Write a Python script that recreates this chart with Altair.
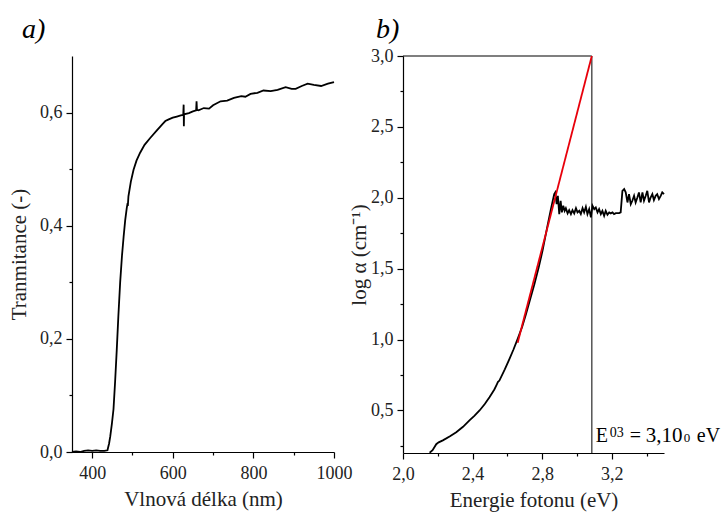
import altair as alt
import pandas as pd

# ---------- panel a) transmittance ----------
wl_nm = [350, 360, 370, 380, 390, 400, 410, 420, 430, 438, 442, 445, 449, 453, 457, 461, 465, 469.5,
         474, 478, 482, 486, 488, 488.5, 490, 496, 502.7, 510, 519, 530, 544, 560, 575, 581.6, 590,
         600, 610, 620, 626, 627, 627.5, 628, 640, 650, 658, 659, 660, 664, 677, 690, 700, 718.6, 735,
         751.8, 770, 780, 793, 810, 825, 843, 860, 880, 895, 905, 920, 934.6, 950, 968, 985, 1000]
transmittance = [0.000, 0.001, 0.000, 0.002, 0.003, 0.002, 0.003, 0.002, 0.002, 0.003, 0.015, 0.028,
                 0.050, 0.076, 0.125, 0.180, 0.240, 0.300, 0.347, 0.380, 0.410, 0.432, 0.440, 0.435,
                 0.452, 0.478, 0.499, 0.515, 0.529, 0.543, 0.555, 0.568, 0.580, 0.585, 0.588, 0.591,
                 0.593, 0.595, 0.596, 0.614, 0.576, 0.597, 0.599, 0.602, 0.604, 0.620, 0.605, 0.604,
                 0.608, 0.607, 0.613, 0.620, 0.621, 0.626, 0.629, 0.628, 0.633, 0.635, 0.639, 0.638,
                 0.640, 0.645, 0.642, 0.642, 0.647, 0.651, 0.649, 0.647, 0.651, 0.654]

# ---------- panel b) log alpha ----------
energy_eV = [2.153, 2.170, 2.191, 2.205, 2.229, 2.270, 2.306, 2.345, 2.382, 2.410, 2.440, 2.470,
             2.497, 2.525, 2.540, 2.545, 2.554, 2.585, 2.612, 2.635, 2.659, 2.685, 2.707, 2.730,
             2.755, 2.780, 2.802, 2.830, 2.850, 2.869,
             2.875, 2.883, 2.890, 2.898, 2.906, 2.913, 2.921, 2.929, 2.936, 2.946, 2.955, 2.965,
             2.974, 2.984, 2.994, 3.003, 3.013, 3.022, 3.032, 3.041, 3.051, 3.060, 3.070, 3.080,
             3.089, 3.099, 3.108, 3.118, 3.127, 3.137, 3.146, 3.156, 3.165, 3.175, 3.185, 3.194,
             3.204, 3.213, 3.223, 3.242, 3.251, 3.261, 3.271, 3.280, 3.290, 3.299, 3.309, 3.318,
             3.328, 3.337, 3.347, 3.356, 3.366, 3.376, 3.385, 3.395, 3.404, 3.414, 3.423, 3.433,
             3.442, 3.452, 3.461, 3.471, 3.481, 3.490, 3.500]
log_alpha = [0.202, 0.220, 0.262, 0.275, 0.289, 0.318, 0.347, 0.385, 0.430, 0.462, 0.500, 0.545,
             0.594, 0.648, 0.685, 0.700, 0.711, 0.790, 0.864, 0.930, 1.005, 1.090, 1.180, 1.280,
             1.390, 1.510, 1.627, 1.800, 1.920, 2.026,
             2.038, 1.955, 2.014, 1.885, 1.979, 1.897, 1.944, 1.908, 1.927, 1.890, 1.913, 1.885,
             1.913, 1.890, 1.927, 1.897, 1.908, 1.885, 1.927, 1.897, 1.937, 1.885, 1.920, 1.862,
             1.944, 1.920, 1.932, 1.897, 1.920, 1.885, 1.908, 1.873, 1.908, 1.880, 1.897, 1.890,
             1.897, 1.885, 1.892, 1.892, 1.897, 2.049, 2.061, 2.038, 1.967, 2.026, 1.955, 1.979,
             2.014, 1.967, 2.002, 2.038, 1.967, 2.038, 1.979, 2.014, 2.049, 1.967, 2.002, 2.026,
             1.984, 2.014, 2.026, 1.991, 2.014, 2.038, 2.026]

fit_E = [2.659, 3.085]
fit_log = [0.977, 3.0]
e03_value = 3.085
top_rule_E = [2.0]
top_rule_E2 = [3.085]
top_rule_v = [3.0]
# annotation pieces: "E", superscript "03", "=", "3,10", small "0", "eV"
ann_text = ["E", "03", "=", "3,10", "0", "eV"]
ann_size = [20, 14, 20, 21, 13, 20]
ann_dx = [4, 18, 38, 54, 92, 105]
ann_dy = [-11, -16, -11, -11, -11, -11]

df_a = pd.DataFrame({"nm": wl_nm, "T": transmittance})
df_b = pd.DataFrame({"E": energy_eV, "v": log_alpha})
df_fit = pd.DataFrame({"E": fit_E, "v": fit_log})
df_vline = pd.DataFrame({"E": [e03_value, e03_value], "v": [0.2, 3.0]})
df_top = pd.DataFrame({"E": top_rule_E, "E2": top_rule_E2, "v": top_rule_v})

FONT = "Liberation Serif"
comma1 = "replace(format(datum.value, '.1f'), '.', ',')"
common_axis = dict(labelOverlap=False, labelFlush=False)

# ----- chart a -----
xa = alt.X("nm:Q", scale=alt.Scale(domain=[350, 1000], nice=False, zero=False),
           axis=alt.Axis(values=[400, 500, 600, 700, 800, 900, 1000],
                         labelExpr="datum.value % 200 == 0 ? format(datum.value, 'd') : ''",
                         tickSize=alt.condition("datum.value % 200 == 0", alt.value(6), alt.value(3)),
                         labelPadding=6, titlePadding=6,
                         title="Vlnová délka (nm)", **common_axis))
ya = alt.Y("T:Q", scale=alt.Scale(domain=[0, 0.7], nice=False),
           axis=alt.Axis(values=[0, 0.1, 0.2, 0.3, 0.4, 0.5, 0.6],
                         labelExpr="round(datum.value*10) % 2 == 0 ? " + comma1 + " : ''",
                         tickSize=alt.condition("round(datum.value*10) % 2 == 0", alt.value(6), alt.value(3)),
                         title="Tranmitance (-)", **common_axis))
chart_a = alt.Chart(df_a).mark_line(color="black", strokeWidth=1.8).encode(
    x=xa, y=ya
).properties(width=262, height=396,
             title=alt.TitleParams("a)", anchor="start", frame="group", dx=-50, offset=12, font=FONT,
                                   fontSize=28, fontStyle="italic", fontWeight="normal", color="black"))

# ----- chart b -----
xb_scale = alt.Scale(domain=[2.0, 3.5], nice=False, zero=False)
yb_scale = alt.Scale(domain=[0.2, 3.0], nice=False, zero=False)
xb = alt.X("E:Q", scale=xb_scale,
           axis=alt.Axis(values=[2.0, 2.2, 2.4, 2.6, 2.8, 3.0, 3.2, 3.4],
                         labelExpr="round(datum.value*5) % 2 == 0 ? " + comma1 + " : ''",
                         tickSize=alt.condition("round(datum.value*5) % 2 == 0", alt.value(6), alt.value(3)),
                         labelPadding=6, titlePadding=6,
                         title="Energie fotonu (eV)", **common_axis))
yb = alt.Y("v:Q", scale=yb_scale,
           axis=alt.Axis(values=[0.25, 0.5, 0.75, 1.0, 1.25, 1.5, 1.75, 2.0, 2.25, 2.5, 2.75, 3.0],
                         labelExpr="round(datum.value*4) % 2 == 0 ? " + comma1 + " : ''",
                         tickSize=alt.condition("round(datum.value*4) % 2 == 0", alt.value(6), alt.value(3)),
                         titlePadding=1,
                         title="log α (cm⁻¹)", **common_axis))
xb2 = alt.X2("E2:Q")

vline = alt.Chart(df_vline).mark_line(color="#555555", strokeWidth=1.5).encode(x=xb, y=yb)
top_rule = alt.Chart(df_top).mark_rule(color="black", strokeWidth=1.2).encode(x=xb, x2=xb2, y=yb)
line_b = alt.Chart(df_b).mark_line(color="black", strokeWidth=1.8).encode(x=xb, y=yb)
fit = alt.Chart(df_fit).mark_line(color="#e8000b", strokeWidth=1.8).encode(x=xb, y=yb)

texts = []
for t, s, dx, dy in zip(ann_text, ann_size, ann_dx, ann_dy):
    dft = pd.DataFrame({"E": [e03_value], "v": [0.2], "t": [t]})
    texts.append(alt.Chart(dft).mark_text(align="left", baseline="alphabetic", dx=dx, dy=dy,
                                          font=FONT, fontSize=s, color="black").encode(
        x=xb, y=yb, text="t:N"))

chart_b = alt.layer(vline, top_rule, line_b, fit, *texts).properties(
    width=261, height=397,
    title=alt.TitleParams("b)", anchor="start", frame="group", dx=-27, offset=3, font=FONT,
                          fontSize=28, fontStyle="italic", fontWeight="normal", color="black"))

chart = alt.hconcat(chart_a, chart_b, spacing=69, bounds="flush").properties(
    padding={"left": 8, "top": 15, "right": 0, "bottom": 2}
).configure_axis(
    grid=False, domainColor="black", tickColor="black", domainWidth=1.2, tickWidth=1.2,
    labelFont=FONT, labelFontSize=18, labelColor="#222222", labelPadding=4,
    titleFont=FONT, titleFontSize=21, titleFontWeight="normal", titleColor="#222222", titlePadding=10
).configure_view(stroke="transparent").properties(background="white")

chart.save("out.html", embed_options={"renderer": "svg", "actions": False})
